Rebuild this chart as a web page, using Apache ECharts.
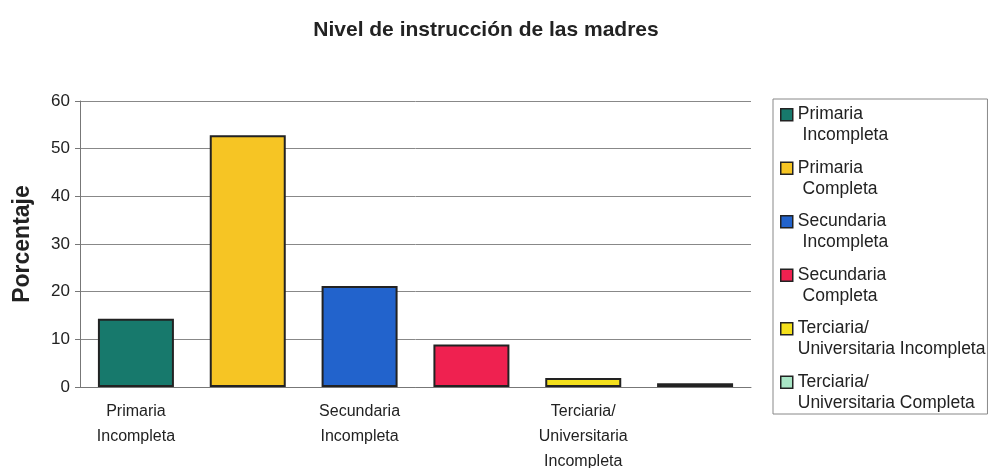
<!DOCTYPE html>
<html>
<head>
<meta charset="utf-8">
<script src="https://cdn.jsdelivr.net/npm/echarts@6/dist/echarts.min.js"></script>
<style>
  html, body { margin: 0; padding: 0; background: #fff; }
  #chart { width: 989px; height: 468px; }
</style>
</head>
<body>
<div id="chart"></div>
<script>
// categorias del grafico
var categories = [
  'Primaria Incompleta',
  'Primaria Completa',
  'Secundaria Incompleta',
  'Secundaria Completa',
  'Terciaria/ Universitaria Incompleta',
  'Terciaria/ Universitaria Completa'
];
// etiquetas del eje x (solo se ven una de cada dos)
var axisLabels = [
  'Primaria\nIncompleta',
  'Primaria\nCompleta',
  'Secundaria\nIncompleta',
  'Secundaria\nCompleta',
  'Terciaria/\nUniversitaria\nIncompleta',
  'Terciaria/\nUniversitaria\nCompleta'
];
// textos de la leyenda
var legendLabels = [
  'Primaria\n Incompleta',
  'Primaria\n Completa',
  'Secundaria\n Incompleta',
  'Secundaria\n Completa',
  'Terciaria/\nUniversitaria Incompleta',
  'Terciaria/\nUniversitaria Completa'
];
var porcentajes = [14.3, 52.8, 21.2, 8.9, 1.9, 0.8];
var yTicks = [0, 10, 20, 30, 40, 50, 60];
var colors = ['#17796c', '#f6c524', '#2263cc', '#ef2150', '#f4e01c', '#a9e6c6'];

var chart = echarts.init(document.getElementById('chart'));

var series = categories.map(function (name, i) {
  return {
    name: name,
    type: 'bar',
    barWidth: 76,
    barGap: '-100%',
    data: porcentajes.map(function (v, j) { return j === i ? v : '-'; }),
    itemStyle: {
      color: colors[i],
      borderColor: '#222',
      borderWidth: 2
    }
  };
});

// cuadrito arriba, alineado con la primera linea del texto
var legendIcon = 'path://M0,5 L12,5 L12,17 L0,17 Z M0,0 M12,42';

var option = {
  animation: false,
  title: {
    text: 'Nivel de instrucción de las madres',
    left: 481,
    top: 15,
    textAlign: 'center',
    textStyle: { fontFamily: 'Liberation Sans', fontSize: 21, fontWeight: 'bold', color: '#222' }
  },
  grid: { left: 80, right: 238, top: 101, bottom: 81, containLabel: false, outerBoundsMode: 'none' },
  legend: {
    orient: 'vertical',
    left: 773,
    top: 99,
    padding: [4, 2, 0, 7],
    itemGap: 10,
    itemWidth: 12,
    itemHeight: 42,
    borderColor: '#888',
    borderWidth: 1,
    icon: legendIcon,
    itemStyle: { borderColor: '#222', borderWidth: 1.5 },
    formatter: function (name) {
      return legendLabels[categories.indexOf(name)];
    },
    textStyle: { fontFamily: 'Liberation Sans', fontSize: 17.5, color: '#222', lineHeight: 21 }
  },
  xAxis: {
    type: 'category',
    data: categories,
    axisLine: { lineStyle: { color: '#777' } },
    axisTick: { length: 5, lineStyle: { color: '#777' } },
    axisLabel: {
      interval: 1,
      margin: 12,
      fontFamily: 'Liberation Sans',
      fontSize: 16,
      lineHeight: 25,
      color: '#222',
      formatter: function (v) { return axisLabels[categories.indexOf(v)]; }
    }
  },
  yAxis: {
    type: 'value',
    min: yTicks[0],
    max: yTicks[yTicks.length - 1],
    interval: 10,
    name: 'Porcentaje',
    nameLocation: 'middle',
    nameGap: 46,
    nameTextStyle: { fontFamily: 'Liberation Sans', fontSize: 23, fontWeight: 'bold', color: '#222' },
    axisLine: { show: true, lineStyle: { color: '#777' } },
    axisTick: { show: true, length: 5, lineStyle: { color: '#777' } },
    axisLabel: { fontFamily: 'Liberation Sans', fontSize: 17, color: '#222', margin: 10 },
    splitLine: { lineStyle: { color: '#888', width: 1 } }
  },
  series: series
};

chart.setOption(option);
</script>
</body>
</html>
